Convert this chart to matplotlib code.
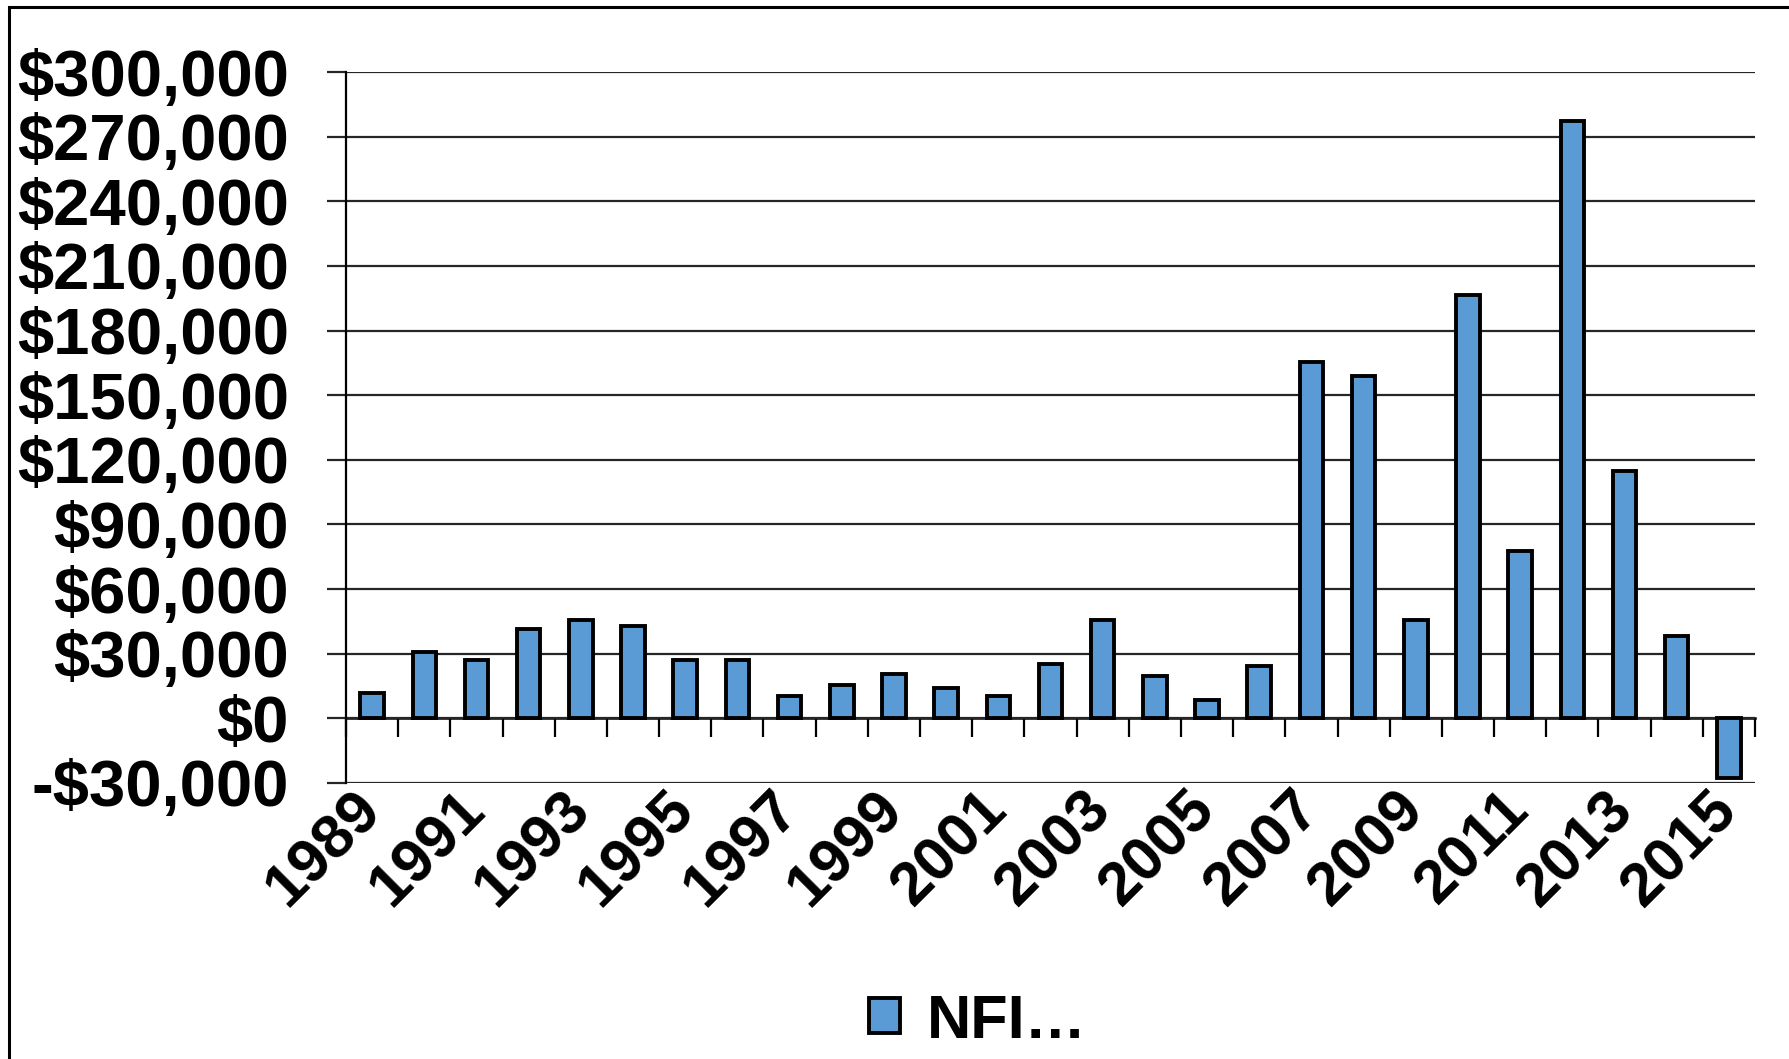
import matplotlib
matplotlib.use("Agg")
import matplotlib.pyplot as plt
from matplotlib.patches import Rectangle
import numpy as np

years = list(range(1989, 2016))
values = [12000, 30700, 27000, 41300, 45600, 43000, 27000, 27000, 10600, 15400,
          20700, 14300, 10600, 25400, 45600, 19600, 8500, 24400, 165400, 159000,
          45600, 196600, 77900, 277200, 115000, 38200, -27600]
series_name = "NFI…"
y_ticks = list(range(-30000, 300001, 30000))

FONT = "Liberation Sans"
FS_Y = 47
FS_X = 44
FS_LEG = 44
BAR_COLOR = "#5B9BD5"
GRID_COLOR = "#262626"

plt.rcParams['font.family'] = [FONT, 'DejaVu Sans']

fig = plt.figure(figsize=(17.9, 10.59), dpi=100)
ax = fig.add_axes([346 / 1790, 1 - 783 / 1059, (1755 - 346) / 1790, (783 - 72) / 1059])

x = np.arange(len(years))
bars = ax.bar(x, values, width=0.45, color=BAR_COLOR, edgecolor="black",
              linewidth=2.8, zorder=3, label=series_name)

ymin, ymax = y_ticks[0], y_ticks[-1]
ax.set_ylim(ymin, ymax)
ax.set_xlim(-0.5, len(years) - 0.5)

ax.set_yticks(y_ticks)
ax.set_yticklabels([("-$" if v < 0 else "$") + f"{abs(v):,}" for v in y_ticks],
                   fontsize=FS_Y, fontweight="bold")
ax.yaxis.grid(True, color=GRID_COLOR, linewidth=1.6, zorder=0)
ax.set_axisbelow(True)
ax.tick_params(axis="y", direction="out", length=14, width=1.6, color=GRID_COLOR, pad=27)

label_idx = list(range(0, len(years), 2))
ax.set_xticks(label_idx)
ax.set_xticklabels([str(years[i]) for i in label_idx], fontsize=FS_X, fontweight="bold",
                   rotation=45, ha="right", va="center", rotation_mode="anchor")
ax.tick_params(axis="x", length=0, pad=13)

for s in ["top", "right", "bottom"]:
    ax.spines[s].set_visible(False)
ax.spines["left"].set_color("black")
ax.spines["left"].set_linewidth(1.6)

# category axis crossing at zero
zero_loc = (0 - ymin) / (ymax - ymin)
sec = ax.secondary_xaxis(zero_loc)
sec.set_xticks(np.arange(len(years) + 1) - 0.5)
sec.set_xticklabels([])
sec.tick_params(direction="out", length=14, width=1.6, color="black")
sec.spines["bottom"].set_color("black")
sec.spines["bottom"].set_linewidth(1.8)
for s in ["top", "left", "right"]:
    sec.spines[s].set_visible(False)

leg = fig.legend(handles=[bars], labels=[series_name], loc="center",
                 bbox_to_anchor=(978 / 1790, 1 - 1022 / 1059), frameon=False,
                 prop={"family": FONT, "weight": "bold", "size": FS_LEG},
                 handlelength=0.5, handleheight=0.5, handletextpad=0.45)

fig.add_artist(Rectangle((9 / 1790, -0.2), 1.5, 1 - 7 / 1059 + 0.2,
                         transform=fig.transFigure, fill=False,
                         edgecolor="black", linewidth=2.2))

fig.savefig("out.png", dpi=100)
